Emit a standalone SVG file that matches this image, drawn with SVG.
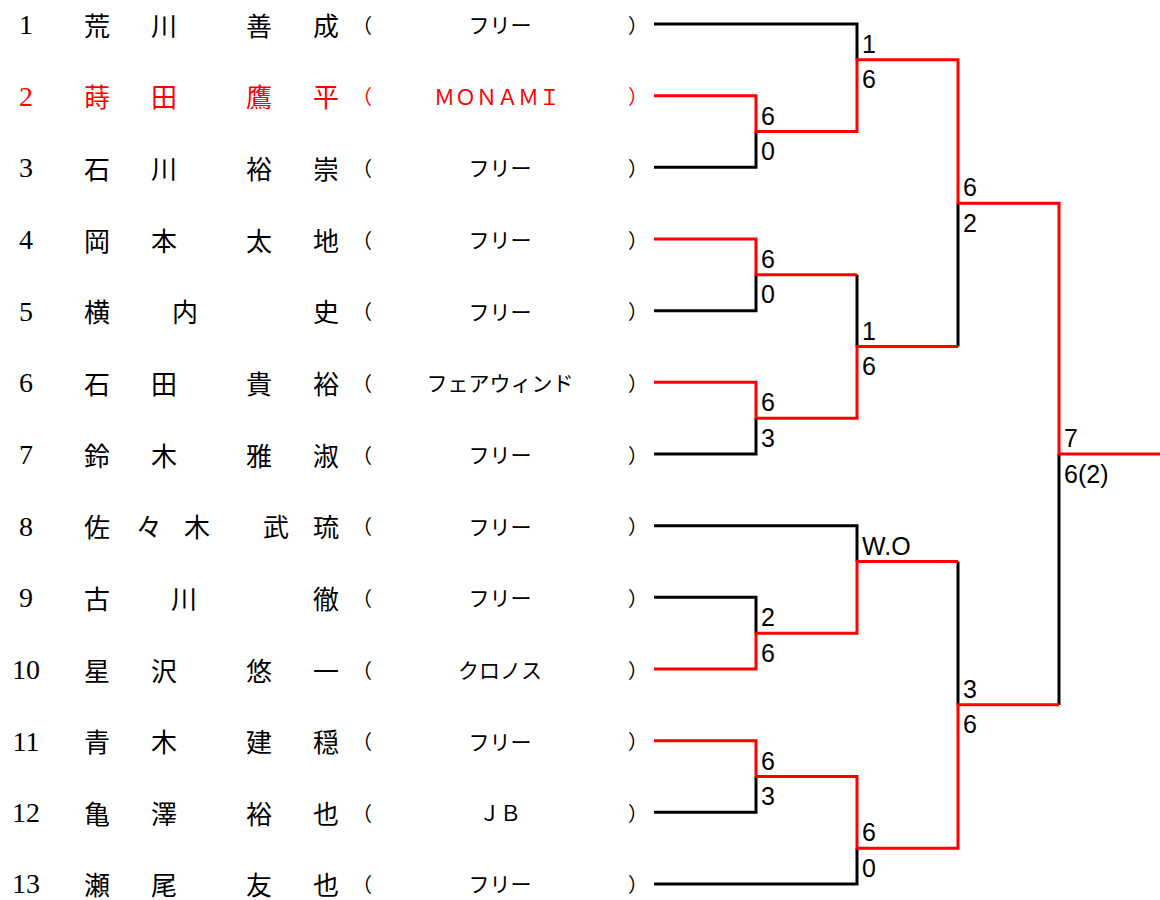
<svg xmlns="http://www.w3.org/2000/svg" width="1160" height="900" viewBox="0 0 1160 900">
<style>
.num{font-family:"Liberation Serif","Noto Serif CJK JP",serif;font-size:28px;text-anchor:middle;fill:#000}
.nm{font-family:"Noto Sans CJK JP",sans-serif;font-size:26px;text-anchor:middle;dominant-baseline:central;fill:#000}
.tm{font-family:"Noto Sans CJK JP",sans-serif;font-size:21px;text-anchor:middle;dominant-baseline:central;fill:#000}
.po{font-family:"Noto Sans CJK JP",sans-serif;font-size:20px;dominant-baseline:central;fill:#000}
.red text,text.red{fill:#f00}
.sc{font-family:"Liberation Sans",Arial,sans-serif;font-size:25px;fill:#000}
.bk{fill:none;stroke:#000;stroke-width:3}
.rd{fill:none;stroke:#f00;stroke-width:3}
</style>
<rect width="1160" height="900" fill="#fff"/>
<g id="p1"><text class="num" x="26" y="34">1</text><text class="nm" x="97" y="24">荒</text><text class="nm" x="164" y="24">川</text><text class="nm" x="259" y="24">善</text><text class="nm" x="326" y="24">成</text><text class="po" x="352" y="24">（</text><text class="tm" x="500" y="24">フリー</text><text class="po" x="628" y="24">）</text></g>
<g id="p2" class="red"><text class="num" x="26" y="105.7">2</text><text class="nm" x="97" y="95.7">蒔</text><text class="nm" x="164" y="95.7">田</text><text class="nm" x="259" y="95.7">鷹</text><text class="nm" x="326" y="95.7">平</text><text class="po" x="352" y="95.7">（</text><text class="tm" x="497" y="95.7">ＭＯＮＡＭＩ</text><text class="po" x="628" y="95.7">）</text></g>
<g id="p3"><text class="num" x="26" y="177.3">3</text><text class="nm" x="97" y="167.3">石</text><text class="nm" x="164" y="167.3">川</text><text class="nm" x="259" y="167.3">裕</text><text class="nm" x="326" y="167.3">崇</text><text class="po" x="352" y="167.3">（</text><text class="tm" x="500" y="167.3">フリー</text><text class="po" x="628" y="167.3">）</text></g>
<g id="p4"><text class="num" x="26" y="249">4</text><text class="nm" x="97" y="239">岡</text><text class="nm" x="164" y="239">本</text><text class="nm" x="259" y="239">太</text><text class="nm" x="326" y="239">地</text><text class="po" x="352" y="239">（</text><text class="tm" x="500" y="239">フリー</text><text class="po" x="628" y="239">）</text></g>
<g id="p5"><text class="num" x="26" y="320.7">5</text><text class="nm" x="97" y="310.7">横</text><text class="nm" x="185" y="310.7">内</text><text class="nm" x="326" y="310.7">史</text><text class="po" x="352" y="310.7">（</text><text class="tm" x="500" y="310.7">フリー</text><text class="po" x="628" y="310.7">）</text></g>
<g id="p6"><text class="num" x="26" y="392.3">6</text><text class="nm" x="97" y="382.3">石</text><text class="nm" x="164" y="382.3">田</text><text class="nm" x="259" y="382.3">貴</text><text class="nm" x="326" y="382.3">裕</text><text class="po" x="352" y="382.3">（</text><text class="tm" x="500" y="382.3">フェアウィンド</text><text class="po" x="628" y="382.3">）</text></g>
<g id="p7"><text class="num" x="26" y="464">7</text><text class="nm" x="97" y="454">鈴</text><text class="nm" x="164" y="454">木</text><text class="nm" x="259" y="454">雅</text><text class="nm" x="326" y="454">淑</text><text class="po" x="352" y="454">（</text><text class="tm" x="500" y="454">フリー</text><text class="po" x="628" y="454">）</text></g>
<g id="p8"><text class="num" x="26" y="535.7">8</text><text class="nm" x="97" y="525.7">佐</text><text class="nm" x="149" y="525.7">々</text><text class="nm" x="197" y="525.7">木</text><text class="nm" x="276" y="525.7">武</text><text class="nm" x="326" y="525.7">琉</text><text class="po" x="352" y="525.7">（</text><text class="tm" x="500" y="525.7">フリー</text><text class="po" x="628" y="525.7">）</text></g>
<g id="p9"><text class="num" x="26" y="607.3">9</text><text class="nm" x="97" y="597.3">古</text><text class="nm" x="184" y="597.3">川</text><text class="nm" x="326" y="597.3">徹</text><text class="po" x="352" y="597.3">（</text><text class="tm" x="500" y="597.3">フリー</text><text class="po" x="628" y="597.3">）</text></g>
<g id="p10"><text class="num" x="26" y="679">10</text><text class="nm" x="97" y="669">星</text><text class="nm" x="164" y="669">沢</text><text class="nm" x="259" y="669">悠</text><text class="nm" x="326" y="669">一</text><text class="po" x="352" y="669">（</text><text class="tm" x="500" y="669">クロノス</text><text class="po" x="628" y="669">）</text></g>
<g id="p11"><text class="num" x="26" y="750.7">11</text><text class="nm" x="97" y="740.7">青</text><text class="nm" x="164" y="740.7">木</text><text class="nm" x="259" y="740.7">建</text><text class="nm" x="326" y="740.7">穏</text><text class="po" x="352" y="740.7">（</text><text class="tm" x="500" y="740.7">フリー</text><text class="po" x="628" y="740.7">）</text></g>
<g id="p12"><text class="num" x="26" y="822.3">12</text><text class="nm" x="97" y="812.3">亀</text><text class="nm" x="164" y="812.3">澤</text><text class="nm" x="259" y="812.3">裕</text><text class="nm" x="326" y="812.3">也</text><text class="po" x="352" y="812.3">（</text><text class="tm" x="500" y="812.3">ＪＢ</text><text class="po" x="628" y="812.3">）</text></g>
<g id="p13"><text class="num" x="26" y="893">13</text><text class="nm" x="97" y="883">瀬</text><text class="nm" x="164" y="883">尾</text><text class="nm" x="259" y="883">友</text><text class="nm" x="326" y="883">也</text><text class="po" x="352" y="883">（</text><text class="tm" x="500" y="883">フリー</text><text class="po" x="628" y="883">）</text></g>
<g id="connectors">
<path class="bk" d="M654,24H857V59.8"/>
<path class="bk" d="M654,167.3H756V131.5"/>
<path class="bk" d="M654,310.7H756V274.8"/>
<path class="bk" d="M654,454H756V418.2"/>
<path class="bk" d="M654,525.7H857V561.5"/>
<path class="bk" d="M654,597.3H756V633.2"/>
<path class="bk" d="M654,812.3H756V776.5"/>
<path class="bk" d="M654,884H857V848.2"/>
<path class="bk" d="M857,274.8V346.5"/>
<path class="bk" d="M958,203.2V346.5"/>
<path class="bk" d="M958,561.5V704.8"/>
<path class="bk" d="M1059,454V704.8"/>
<path class="rd" d="M654,95.7H756V131.5H857V59.8H958V203.2H1059V454H1160"/>
<path class="rd" d="M654,239H756V274.8H857"/>
<path class="rd" d="M654,382.3H756V418.2H857V346.5H958"/>
<path class="rd" d="M654,669H756V633.2H857V561.5H958"/>
<path class="rd" d="M654,740.7H756V776.5H857V848.2H958V704.8H1059"/>
</g>
<g id="scores">
<text class="sc" x="761" y="124.5">6</text><text class="sc" x="761" y="160">0</text>
<text class="sc" x="761" y="267.8">6</text><text class="sc" x="761" y="303.3">0</text>
<text class="sc" x="761" y="411.2">6</text><text class="sc" x="761" y="446.7">3</text>
<text class="sc" x="761" y="626.2">2</text><text class="sc" x="761" y="661.7">6</text>
<text class="sc" x="761" y="769.5">6</text><text class="sc" x="761" y="805">3</text>
<text class="sc" x="862" y="52.8">1</text><text class="sc" x="862" y="88.3">6</text>
<text class="sc" x="862" y="339.5">1</text><text class="sc" x="862" y="375">6</text>
<text class="sc" x="862" y="554.5">W.O</text>
<text class="sc" x="862" y="841.2">6</text><text class="sc" x="862" y="876.7">0</text>
<text class="sc" x="963" y="196.2">6</text><text class="sc" x="963" y="231.7">2</text>
<text class="sc" x="963" y="697.8">3</text><text class="sc" x="963" y="733.3">6</text>
<text class="sc" x="1064" y="447">7</text><text class="sc" x="1064" y="482.5">6(2)</text>
</g>
</svg>
